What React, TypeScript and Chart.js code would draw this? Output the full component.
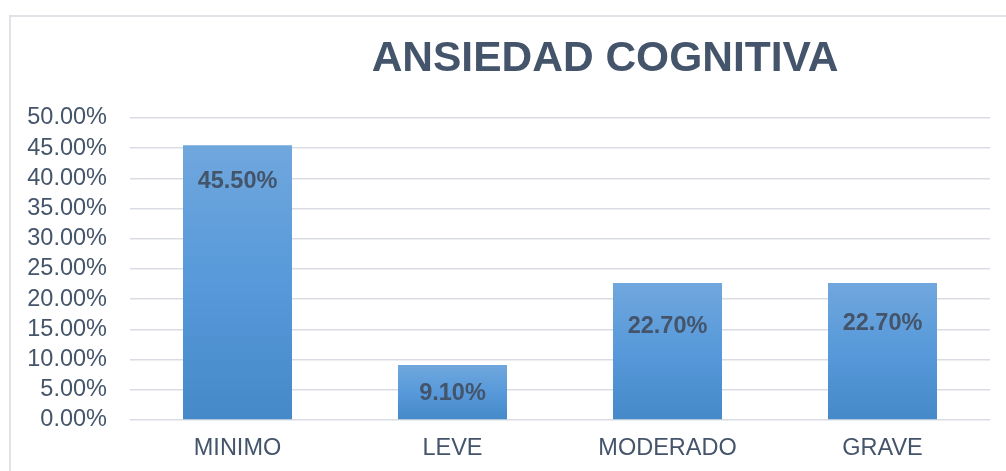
import React, { useEffect, useRef } from "react";
import { Chart, registerables } from "chart.js";
Chart.register(...registerables);

const chartTitle = "ANSIEDAD COGNITIVA";
const categories = ["MINIMO", "LEVE", "MODERADO", "GRAVE"];
const values = [45.5, 9.1, 22.7, 22.7];
const yMin = 0;
const yMax = 50;
const yStep = 5;

const TEXT = "#44546a";
const GRID = "#d9dde3";
const FONT = "'Liberation Sans', Arial, sans-serif";
const labelOffsets = [36, 28, 44, 41];

const framePlugin = {
  id: "frameTitle",
  beforeDraw(chart: any) {
    const { ctx, width, height } = chart;
    ctx.save();
    ctx.fillStyle = "#ffffff";
    ctx.fillRect(0, 0, width, height);
    ctx.strokeStyle = "#dfe3e8";
    ctx.lineWidth = 2;
    ctx.beginPath();
    ctx.moveTo(10, height + 2);
    ctx.lineTo(10, 16);
    ctx.lineTo(width + 2, 16);
    ctx.stroke();
    ctx.restore();
  },
  afterDraw(chart: any) {
    const { ctx, chartArea } = chart;
    ctx.save();
    ctx.fillStyle = TEXT;
    ctx.font = `bold 42.5px ${FONT}`;
    ctx.textAlign = "center";
    ctx.textBaseline = "middle";
    ctx.fillText(chartTitle, (chartArea.left + chartArea.right) / 2 + 45, 59);
    ctx.restore();
  },
};

const labelPlugin = {
  id: "barLabels",
  afterDatasetsDraw(chart: any) {
    const { ctx } = chart;
    const meta = chart.getDatasetMeta(0);
    ctx.save();
    ctx.fillStyle = TEXT;
    ctx.font = `bold 23.5px ${FONT}`;
    ctx.textAlign = "center";
    ctx.textBaseline = "middle";
    meta.data.forEach((el: any, i: number) => {
      ctx.fillText(values[i].toFixed(2) + "%", el.x, el.y + labelOffsets[i]);
    });
    ctx.restore();
  },
};

export default function App() {
  const ref = useRef<HTMLCanvasElement | null>(null);
  useEffect(() => {
    if (!ref.current) return;
    const chart = new Chart(ref.current, {
      type: "bar",
      data: {
        labels: categories,
        datasets: [
          {
            data: values,
            backgroundColor: (c: any) => {
              const chartObj = c.chart;
              const ys = chartObj.scales?.y;
              if (!ys || c.dataIndex === undefined) return "#5b9bd5";
              const top = ys.getPixelForValue(values[c.dataIndex]);
              const bottom = ys.getPixelForValue(0);
              if (!isFinite(top) || !isFinite(bottom) || top === bottom) return "#5b9bd5";
              const g = chartObj.ctx.createLinearGradient(0, top, 0, bottom);
              g.addColorStop(0, "#70a7dd");
              g.addColorStop(0.5, "#5799da");
              g.addColorStop(1, "#4589c8");
              return g;
            },
            borderWidth: 0,
            categoryPercentage: 1,
            barPercentage: 0.507,
          },
        ],
      },
      options: {
        animation: false,
        responsive: true,
        maintainAspectRatio: false,
        layout: { padding: { top: 118, right: 16, left: 0, bottom: 0 } },
        plugins: {
          legend: { display: false },
          title: { display: false },
          tooltip: { enabled: false },
        },
        scales: {
          x: {
            grid: { display: false, drawTicks: false },
            border: { display: false },
            ticks: {
              color: TEXT,
              font: { family: FONT, size: 23.5 },
              padding: 14,
            },
            afterFit: (s: any) => {
              s.height = 51;
            },
          },
          y: {
            min: yMin,
            max: yMax,
            grid: { color: GRID, lineWidth: 1.5, drawTicks: false },
            border: { display: false },
            ticks: {
              stepSize: yStep,
              autoSkip: false,
              color: TEXT,
              font: { family: FONT, size: 23.5 },
              padding: 23,
              callback: (v: any) => Number(v).toFixed(2) + "%",
            },
            afterFit: (s: any) => {
              s.width = 130;
            },
          },
        },
      },
      plugins: [framePlugin, labelPlugin],
    });
    return () => chart.destroy();
  }, []);
  return (
    <div style={{ position: "fixed", left: 0, top: 0, width: 1006, height: 471, background: "#fff" }}>
      <canvas ref={ref} />
    </div>
  );
}
